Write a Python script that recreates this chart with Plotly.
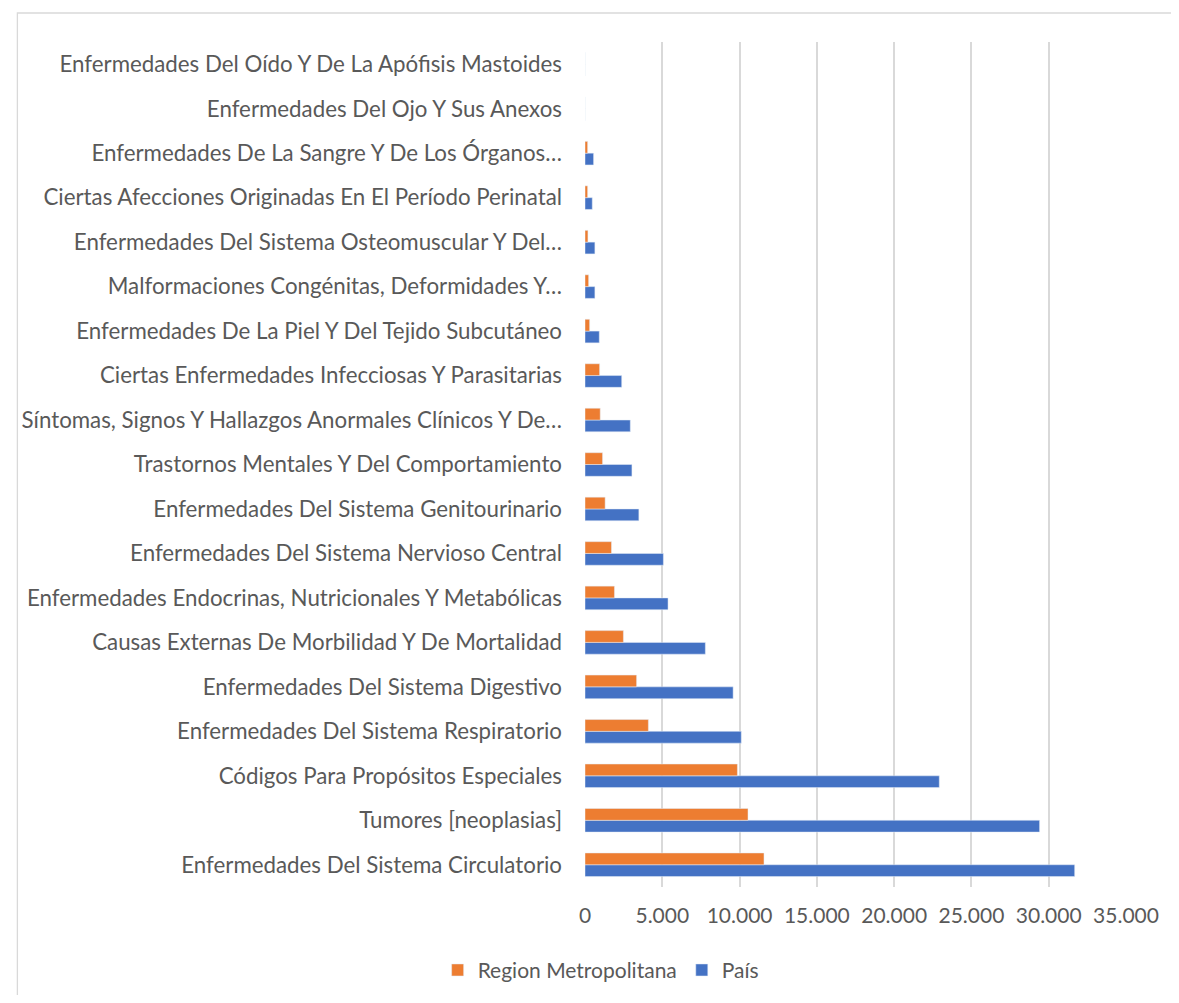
import plotly.graph_objects as go

categories = [
    "Enfermedades Del Sistema Circulatorio",
    "Tumores [neoplasias]",
    "Códigos Para Propósitos Especiales",
    "Enfermedades Del Sistema Respiratorio",
    "Enfermedades Del Sistema Digestivo",
    "Causas Externas De Morbilidad Y De Mortalidad",
    "Enfermedades Endocrinas, Nutricionales Y Metabólicas",
    "Enfermedades Del Sistema Nervioso Central",
    "Enfermedades Del Sistema Genitourinario",
    "Trastornos Mentales Y Del Comportamiento",
    "Síntomas, Signos Y Hallazgos Anormales Clínicos Y De…",
    "Ciertas Enfermedades Infecciosas Y Parasitarias",
    "Enfermedades De La Piel Y Del Tejido Subcutáneo",
    "Malformaciones Congénitas, Deformidades Y…",
    "Enfermedades Del Sistema Osteomuscular Y Del…",
    "Ciertas Afecciones Originadas En El Período Perinatal",
    "Enfermedades De La Sangre Y De Los Órganos…",
    "Enfermedades Del Ojo Y Sus Anexos",
    "Enfermedades Del Oído Y De La Apófisis Mastoides",
]

region_metropolitana = [11580, 10545, 9860, 4100, 3338, 2484, 1906, 1713, 1303, 1136,
                        985, 945, 300, 235, 190, 170, 170, 0, 0]
pais = [31680, 29410, 22920, 10110, 9583, 7786, 5372, 5071, 3485, 3036,
        2930, 2375, 924, 640, 640, 470, 555, 0, 0]

x_ticks = [0, 5000, 10000, 15000, 20000, 25000, 30000, 35000]

W, H = 1163, 987
ML, MR, MT, MB = 577, 37, 34, 108
FONT = "Lato"
TXT = "#595959"

fig = go.Figure()
fig.add_trace(go.Bar(
    y=categories, x=pais, orientation="h", name="País",
    marker=dict(color="#4472C4"), legendrank=2,
))
fig.add_trace(go.Bar(
    y=categories, x=region_metropolitana, orientation="h", name="Region Metropolitana",
    marker=dict(color="#ED7D31"), legendrank=1,
))

pw = W - ML - MR
ph = H - MT - MB
fig.add_shape(
    type="rect", xref="paper", yref="paper",
    x0=(1 - ML) / pw, x1=(W + 20 - ML) / pw,
    y0=-(MB + 20) / ph, y1=(H - 5 - MB) / ph,
    line=dict(color="#D9D9D9", width=1.3), fillcolor="rgba(0,0,0,0)", layer="below",
)

fig.update_layout(
    width=W, height=H,
    margin=dict(l=ML, r=MR, t=MT, b=MB),
    paper_bgcolor="white", plot_bgcolor="white",
    barmode="group", bargap=0.47, bargroupgap=0,
    separators=",.",
    font=dict(family=FONT, size=22, color=TXT),
    showlegend=True,
    legend=dict(
        orientation="h", xref="container", yref="container",
        x=0.51, xanchor="center", y=0.025, yanchor="middle",
        font=dict(size=21, color=TXT), traceorder="normal",
    ),
    xaxis=dict(
        range=[0, 35000], tickvals=x_ticks, tickformat=",",
        showgrid=True, gridcolor="#D9D9D9", gridwidth=1.5,
        zeroline=False, showline=False,
        ticks="", ticklabelstandoff=14,
        tickfont=dict(size=21, color=TXT),
    ),
    yaxis=dict(
        type="category", showgrid=False, zeroline=False, showline=False,
        ticks="", ticklabelstandoff=22,
        tickfont=dict(size=22.3, color=TXT),
    ),
)

fig.write_html("out.html")
